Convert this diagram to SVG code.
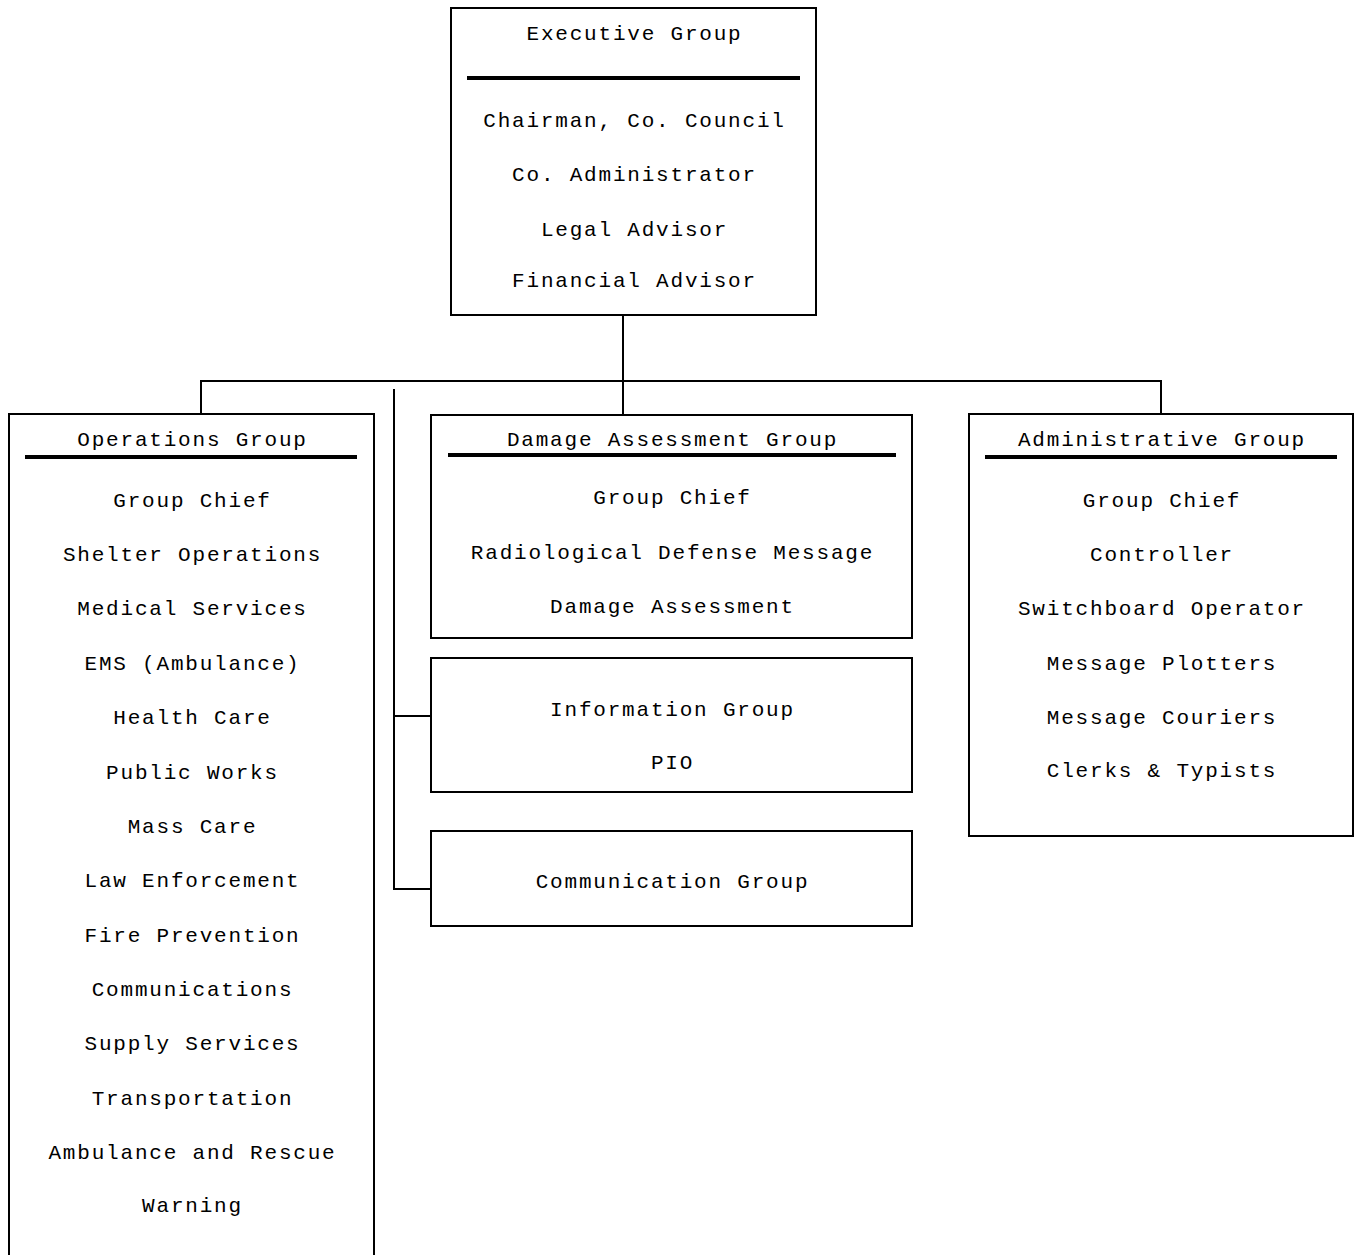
<svg xmlns="http://www.w3.org/2000/svg" width="1360" height="1255" viewBox="0 0 1360 1255">
<style>
.box{fill:#fff;stroke:#000;stroke-width:2}
.rule{stroke:#000;stroke-width:4}
.conn{fill:none;stroke:#000;stroke-width:2}
text{font-family:"Liberation Mono","Courier New",monospace;font-size:21px;letter-spacing:1.8px;fill:#000;text-anchor:middle}
</style>
<rect width="1360" height="1255" fill="#fff"/>
<g id="connectors">
<path class="conn" d="M623 315 V418"/>
<path class="conn" d="M201 414 V381 H1161 V414"/>
<path class="conn" d="M394 389 V889 H431 M394 716 H431"/>
</g>
<g id="executive">
<rect class="box" x="451" y="8" width="365" height="307"/>
<line class="rule" x1="467" y1="78" x2="800" y2="78"/>
<text x="634.5" y="40">Executive Group</text>
<text x="634.5" y="127">Chairman, Co. Council</text>
<text x="634.5" y="181">Co. Administrator</text>
<text x="634.5" y="236">Legal Advisor</text>
<text x="634.5" y="287">Financial Advisor</text>
</g>
<g id="operations">
<rect class="box" x="9" y="414" width="365" height="860"/>
<line class="rule" x1="25" y1="457" x2="357" y2="457"/>
<text x="192.5" y="446">Operations Group</text>
<text x="192.5" y="507">Group Chief</text>
<text x="192.5" y="561">Shelter Operations</text>
<text x="192.5" y="615">Medical Services</text>
<text x="192.5" y="670">EMS (Ambulance)</text>
<text x="192.5" y="724">Health Care</text>
<text x="192.5" y="779">Public Works</text>
<text x="192.5" y="833">Mass Care</text>
<text x="192.5" y="887">Law Enforcement</text>
<text x="192.5" y="942">Fire Prevention</text>
<text x="192.5" y="996">Communications</text>
<text x="192.5" y="1050">Supply Services</text>
<text x="192.5" y="1105">Transportation</text>
<text x="192.5" y="1159">Ambulance and Rescue</text>
<text x="192.5" y="1212">Warning</text>
</g>
<g id="damage">
<rect class="box" x="431" y="415" width="481" height="223"/>
<line class="rule" x1="448" y1="455" x2="896" y2="455"/>
<text x="672.5" y="446">Damage Assessment Group</text>
<text x="672.5" y="504">Group Chief</text>
<text x="672.5" y="559">Radiological Defense Message</text>
<text x="672.5" y="613">Damage Assessment</text>
</g>
<g id="information">
<rect class="box" x="431" y="658" width="481" height="134"/>
<text x="672.5" y="716">Information Group</text>
<text x="672.5" y="769">PIO</text>
</g>
<g id="communication">
<rect class="box" x="431" y="831" width="481" height="95"/>
<text x="672.5" y="888">Communication Group</text>
</g>
<g id="administrative">
<rect class="box" x="969" y="414" width="384" height="422"/>
<line class="rule" x1="985" y1="457" x2="1337" y2="457"/>
<text x="1162" y="446">Administrative Group</text>
<text x="1162" y="507">Group Chief</text>
<text x="1162" y="561">Controller</text>
<text x="1162" y="615">Switchboard Operator</text>
<text x="1162" y="670">Message Plotters</text>
<text x="1162" y="724">Message Couriers</text>
<text x="1162" y="777">Clerks &amp; Typists</text>
</g>
</svg>
